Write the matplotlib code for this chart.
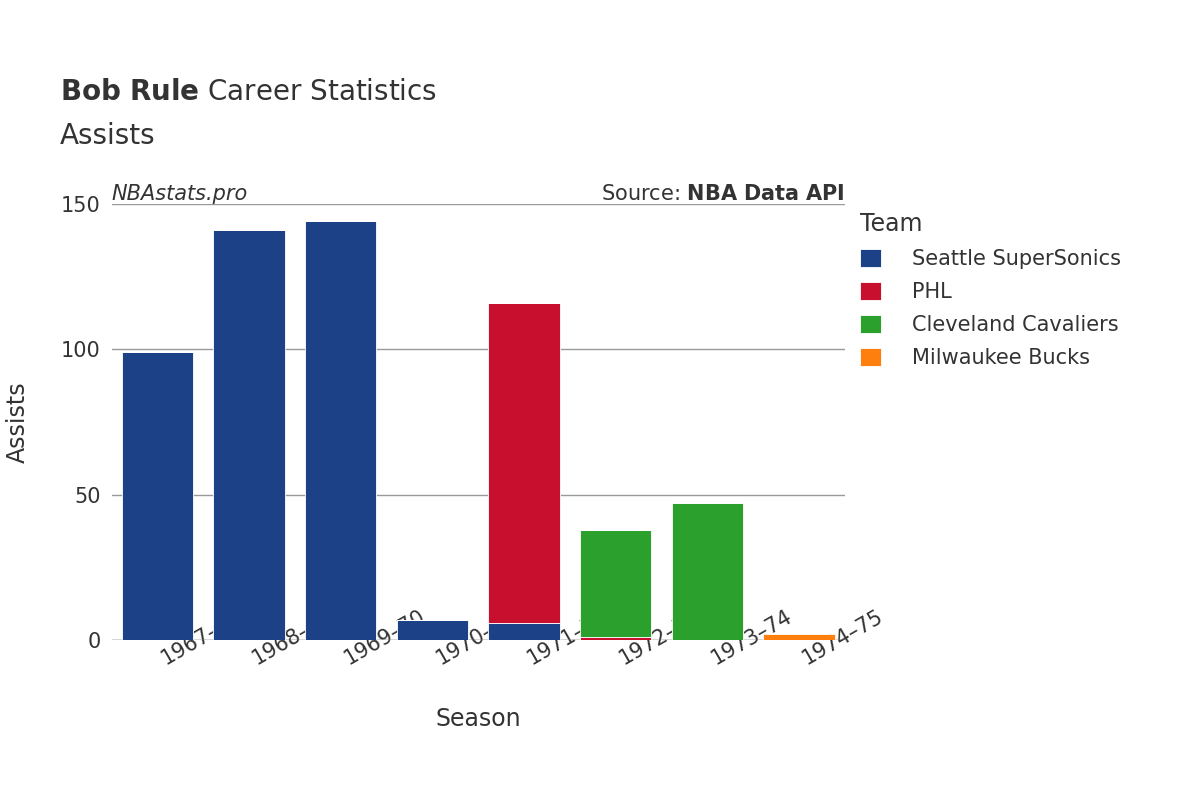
import matplotlib
matplotlib.use("Agg")
import matplotlib.pyplot as plt
import numpy as np

seasons = ["1967–68", "1968–69", "1969–70", "1970–71", "1971–72", "1972–73", "1973–74", "1974–75"]
teams = ["Seattle SuperSonics", "PHL", "Cleveland Cavaliers", "Milwaukee Bucks"]
colors = ["#1d4187", "#c8102e", "#2ca02c", "#ff7f0e"]
seattle = [99, 141, 144, 7, 6, 0, 0, 0]
phl = [0, 0, 0, 0, 110, 1, 0, 0]
cleveland = [0, 0, 0, 0, 0, 37, 47, 0]
milwaukee = [0, 0, 0, 0, 0, 0, 0, 2]
series = [seattle, phl, cleveland, milwaukee]

fig = plt.figure(figsize=(12, 8), dpi=100)
ax = fig.add_axes([0.093, 0.2, 0.611, 0.545])
x = np.arange(len(seasons))
bottom = np.zeros(len(seasons))
for name, vals, c in zip(teams, series, colors):
    v = np.array(vals, dtype=float)
    ax.bar(x, v, 0.78, bottom=bottom, color=c, label=name, edgecolor="white", linewidth=0.6)
    bottom += v

ax.set_xlim(-0.5, 7.5)
ax.set_ylim(0, 150)
ax.set_yticks([0, 50, 100, 150])
ax.grid(axis="y", color="#999999", linewidth=1)
ax.set_axisbelow(True)
for s in ax.spines.values():
    s.set_visible(False)
ax.axhline(0, color="#e5e5e5", linewidth=2, zorder=0.5)
ax.tick_params(length=0, labelsize=15, colors="#333333", pad=8)
ax.set_xticks(x)
ax.set_xticklabels(seasons, rotation=30, ha="left", rotation_mode="anchor")
ax.set_xlabel("Season", fontsize=17, color="#333333", labelpad=28)
ax.set_ylabel("Assists", fontsize=17, color="#333333", labelpad=22)

fig.text(0.05, 0.875, "$\\bf{Bob\\ Rule}$ Career Statistics", fontsize=20, color="#333333")
fig.text(0.05, 0.82, "Assists", fontsize=20, color="#333333")
ax.text(0.0, 1.0, "NBAstats.pro", transform=ax.transAxes, fontsize=15, style="italic",
        color="#333333", va="bottom", ha="left")
ax.text(1.0, 1.0, "Source: $\\bf{NBA\\ Data\\ API}$", transform=ax.transAxes, fontsize=15,
        color="#333333", va="bottom", ha="right")

leg = fig.legend(loc="upper left", bbox_to_anchor=(0.71, 0.745), frameon=False, fontsize=15,
                 title="Team", title_fontsize=17, handlelength=1, handleheight=1,
                 labelspacing=0.6, handletextpad=1.5, borderaxespad=0)
leg._legend_box.align = "left"
for t in leg.get_texts():
    t.set_color("#333333")
leg.get_title().set_color("#333333")

fig.savefig("out.png", dpi=100)
